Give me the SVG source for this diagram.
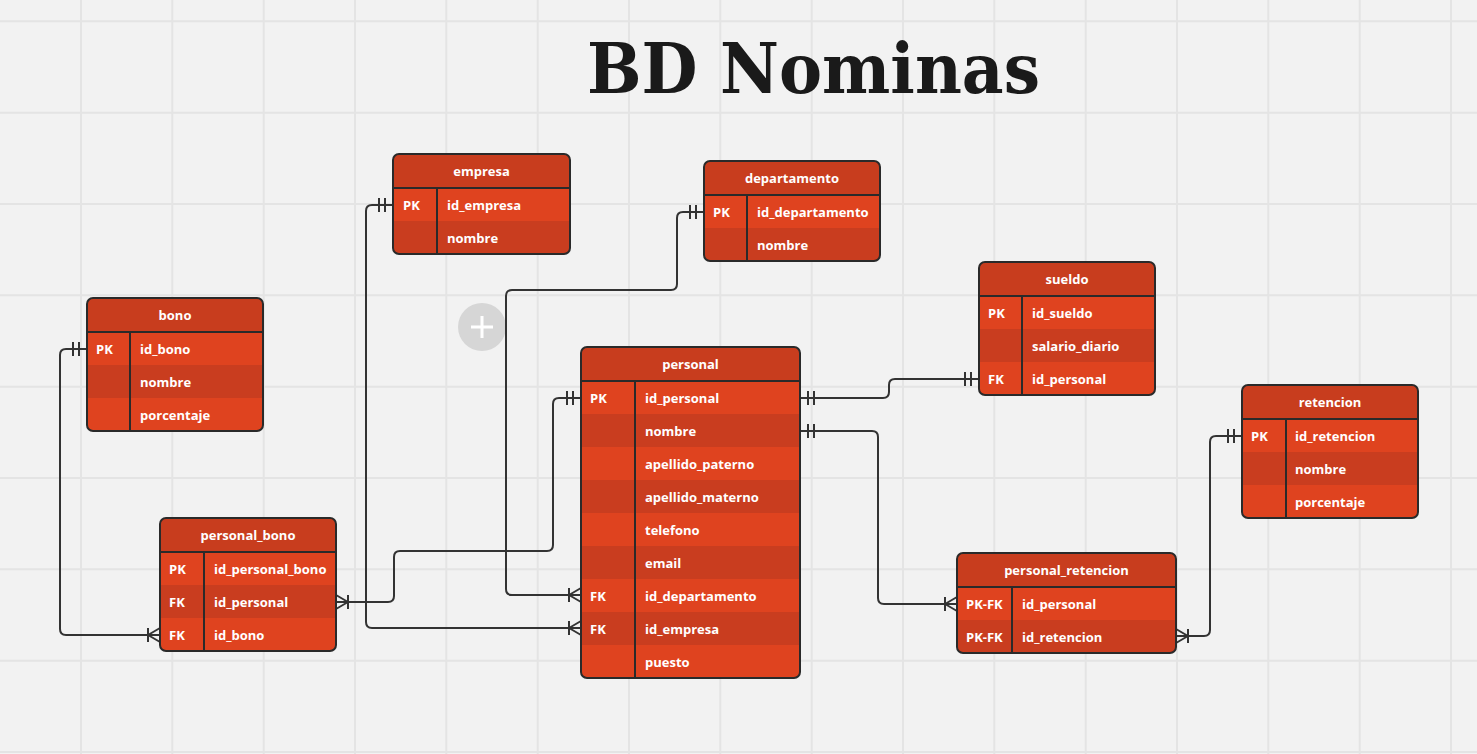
<svg xmlns="http://www.w3.org/2000/svg" width="1477" height="754" viewBox="0 0 1477 754">
<defs>
<style>
.grid{stroke:#e4e4e4;stroke-width:2;fill:none}
.hdr{fill:#c83d1e}
.rb{fill:#df431f}
.rd{fill:#c93d1f}
.frame{fill:none;stroke:#2a2a2a;stroke-width:2}
.ln{stroke:#2a2a2a;stroke-width:2}
.t{font-family:"Open Sans","Noto Sans",sans-serif;font-weight:700;font-size:13px;fill:#ffffff}
.tc{text-anchor:middle}
.conn{fill:none;stroke:#333333;stroke-width:2}
.title{font-family:"DejaVu Serif","Liberation Serif",serif;font-weight:700;font-size:69px;fill:#1a1a1a}
</style>
<marker id="one" viewBox="-18 -9 19 18" markerWidth="19" markerHeight="18" refX="0" refY="0" orient="auto-start-reverse" markerUnits="userSpaceOnUse">
<path d="M-8,-7 V7 M-14,-7 V7" stroke="#333333" stroke-width="2" fill="none"/>
</marker>
<marker id="many" viewBox="-18 -9 19 18" markerWidth="19" markerHeight="18" refX="0" refY="0" orient="auto-start-reverse" markerUnits="userSpaceOnUse">
<path d="M-12,-7 V7 M-12,0 L0,-7 M-12,0 L0,7" stroke="#333333" stroke-width="2" fill="none"/>
</marker>
<clipPath id="c-empresa"><rect x="393" y="154" width="177" height="100" rx="6"/></clipPath>
<clipPath id="c-bono"><rect x="87" y="298" width="176" height="133" rx="6"/></clipPath>
<clipPath id="c-dep"><rect x="704" y="161" width="176" height="100" rx="6"/></clipPath>
<clipPath id="c-sueldo"><rect x="979" y="262" width="176" height="133" rx="6"/></clipPath>
<clipPath id="c-ret"><rect x="1242" y="385" width="176" height="133" rx="6"/></clipPath>
<clipPath id="c-per"><rect x="581" y="347" width="219" height="331" rx="6"/></clipPath>
<clipPath id="c-pb"><rect x="160" y="518" width="176" height="133" rx="6"/></clipPath>
<clipPath id="c-pr"><rect x="957" y="553" width="219" height="100" rx="6"/></clipPath>
</defs>
<rect x="0" y="0" width="1477" height="754" fill="#f2f2f2"/>
<g id="grid">
<path class="grid" d="M81,0V754 M172.3,0V754 M263.7,0V754 M355,0V754 M446.3,0V754 M537.7,0V754 M629,0V754 M720.3,0V754 M811.7,0V754 M903,0V754 M994.3,0V754 M1085.7,0V754 M1177,0V754 M1268.3,0V754 M1359.7,0V754 M1451,0V754 M0,21.3H1477 M0,112.7H1477 M0,204H1477 M0,295.3H1477 M0,386.7H1477 M0,478H1477 M0,569.3H1477 M0,660.7H1477 M0,752H1477"/>
</g>
<text class="title" x="587" y="93" textLength="453" lengthAdjust="spacingAndGlyphs">BD Nominas</text>
<g id="add-button">
<circle cx="482" cy="327" r="24" fill="#d6d6d6"/>
<path d="M471,327H493 M482,316V338" stroke="#ffffff" stroke-width="3"/>
</g>
<g id="connectors">
<path class="conn" marker-start="url(#one)" marker-end="url(#many)" d="M87,349 H66 Q60,349 60,355 V629 Q60,635 66,635 H160"/>
<path class="conn" marker-start="url(#one)" marker-end="url(#many)" d="M393,205 H372 Q366,205 366,211 V622 Q366,628 372,628 H581"/>
<path class="conn" marker-start="url(#one)" marker-end="url(#many)" d="M704,212 H683 Q677,212 677,218 V284 Q677,290 671,290 H512 Q506,290 506,296 V589 Q506,595 512,595 H581"/>
<path class="conn" marker-start="url(#one)" marker-end="url(#many)" d="M581,398 H559 Q553,398 553,404 V545 Q553,551 547,551 H400 Q394,551 394,557 V596 Q394,602 388,602 H336"/>
<path class="conn" marker-start="url(#one)" marker-end="url(#one)" d="M800,398 H883 Q889,398 889,392 V385 Q889,379 895,379 H979"/>
<path class="conn" marker-start="url(#one)" marker-end="url(#many)" d="M800,431 H872 Q878,431 878,437 V598 Q878,604 884,604 H957"/>
<path class="conn" marker-start="url(#one)" marker-end="url(#many)" d="M1242,436 H1216 Q1210,436 1210,442 V630 Q1210,636 1204,636 H1176"/>
</g>
<g id="empresa">
<g clip-path="url(#c-empresa)">
<rect class="hdr" x="393" y="154" width="177" height="34"/>
<rect class="rb" x="393" y="188" width="177" height="33"/>
<rect class="rd" x="393" y="221" width="177" height="33"/>
</g>
<line class="ln" x1="393" y1="188" x2="570" y2="188"/>
<line class="ln" x1="437" y1="188" x2="437" y2="254"/>
<rect class="frame" x="393" y="154" width="177" height="100" rx="6"/>
<text class="t tc" x="481.5" y="176">empresa</text>
<text class="t" x="403" y="209.5">PK</text>
<text class="t" x="447" y="209.5">id_empresa</text>
<text class="t" x="447" y="242.5">nombre</text>
</g>
<g id="bono">
<g clip-path="url(#c-bono)">
<rect class="hdr" x="87" y="298" width="176" height="34"/>
<rect class="rb" x="87" y="332" width="176" height="33"/>
<rect class="rd" x="87" y="365" width="176" height="33"/>
<rect class="rb" x="87" y="398" width="176" height="33"/>
</g>
<line class="ln" x1="87" y1="332" x2="263" y2="332"/>
<line class="ln" x1="130" y1="332" x2="130" y2="431"/>
<rect class="frame" x="87" y="298" width="176" height="133" rx="6"/>
<text class="t tc" x="175" y="320">bono</text>
<text class="t" x="96" y="353.5">PK</text>
<text class="t" x="140" y="353.5">id_bono</text>
<text class="t" x="140" y="386.5">nombre</text>
<text class="t" x="140" y="419.5">porcentaje</text>
</g>
<g id="departamento">
<g clip-path="url(#c-dep)">
<rect class="hdr" x="704" y="161" width="176" height="34"/>
<rect class="rb" x="704" y="195" width="176" height="33"/>
<rect class="rd" x="704" y="228" width="176" height="33"/>
</g>
<line class="ln" x1="704" y1="195" x2="880" y2="195"/>
<line class="ln" x1="747" y1="195" x2="747" y2="261"/>
<rect class="frame" x="704" y="161" width="176" height="100" rx="6"/>
<text class="t tc" x="792" y="183">departamento</text>
<text class="t" x="713" y="216.5">PK</text>
<text class="t" x="757" y="216.5">id_departamento</text>
<text class="t" x="757" y="249.5">nombre</text>
</g>
<g id="sueldo">
<g clip-path="url(#c-sueldo)">
<rect class="hdr" x="979" y="262" width="176" height="34"/>
<rect class="rb" x="979" y="296" width="176" height="33"/>
<rect class="rd" x="979" y="329" width="176" height="33"/>
<rect class="rb" x="979" y="362" width="176" height="33"/>
</g>
<line class="ln" x1="979" y1="296" x2="1155" y2="296"/>
<line class="ln" x1="1022" y1="296" x2="1022" y2="395"/>
<rect class="frame" x="979" y="262" width="176" height="133" rx="6"/>
<text class="t tc" x="1067" y="284">sueldo</text>
<text class="t" x="988" y="317.5">PK</text>
<text class="t" x="1032" y="317.5">id_sueldo</text>
<text class="t" x="1032" y="350.5">salario_diario</text>
<text class="t" x="988" y="383.5">FK</text>
<text class="t" x="1032" y="383.5">id_personal</text>
</g>
<g id="retencion">
<g clip-path="url(#c-ret)">
<rect class="hdr" x="1242" y="385" width="176" height="34"/>
<rect class="rb" x="1242" y="419" width="176" height="33"/>
<rect class="rd" x="1242" y="452" width="176" height="33"/>
<rect class="rb" x="1242" y="485" width="176" height="33"/>
</g>
<line class="ln" x1="1242" y1="419" x2="1418" y2="419"/>
<line class="ln" x1="1286" y1="419" x2="1286" y2="518"/>
<rect class="frame" x="1242" y="385" width="176" height="133" rx="6"/>
<text class="t tc" x="1330" y="407">retencion</text>
<text class="t" x="1251" y="440.5">PK</text>
<text class="t" x="1295" y="440.5">id_retencion</text>
<text class="t" x="1295" y="473.5">nombre</text>
<text class="t" x="1295" y="506.5">porcentaje</text>
</g>
<g id="personal">
<g clip-path="url(#c-per)">
<rect class="hdr" x="581" y="347" width="219" height="34"/>
<rect class="rb" x="581" y="381" width="219" height="33"/>
<rect class="rd" x="581" y="414" width="219" height="33"/>
<rect class="rb" x="581" y="447" width="219" height="33"/>
<rect class="rd" x="581" y="480" width="219" height="33"/>
<rect class="rb" x="581" y="513" width="219" height="33"/>
<rect class="rd" x="581" y="546" width="219" height="33"/>
<rect class="rb" x="581" y="579" width="219" height="33"/>
<rect class="rd" x="581" y="612" width="219" height="33"/>
<rect class="rb" x="581" y="645" width="219" height="33"/>
</g>
<line class="ln" x1="581" y1="381" x2="800" y2="381"/>
<line class="ln" x1="635" y1="381" x2="635" y2="678"/>
<rect class="frame" x="581" y="347" width="219" height="331" rx="6"/>
<text class="t tc" x="690.5" y="369">personal</text>
<text class="t" x="590" y="402.5">PK</text>
<text class="t" x="645" y="402.5">id_personal</text>
<text class="t" x="645" y="435.5">nombre</text>
<text class="t" x="645" y="468.5">apellido_paterno</text>
<text class="t" x="645" y="501.5">apellido_materno</text>
<text class="t" x="645" y="534.5">telefono</text>
<text class="t" x="645" y="567.5">email</text>
<text class="t" x="590" y="600.5">FK</text>
<text class="t" x="645" y="600.5">id_departamento</text>
<text class="t" x="590" y="633.5">FK</text>
<text class="t" x="645" y="633.5">id_empresa</text>
<text class="t" x="645" y="666.5">puesto</text>
</g>
<g id="personal_bono">
<g clip-path="url(#c-pb)">
<rect class="hdr" x="160" y="518" width="176" height="34"/>
<rect class="rb" x="160" y="552" width="176" height="33"/>
<rect class="rd" x="160" y="585" width="176" height="33"/>
<rect class="rb" x="160" y="618" width="176" height="33"/>
</g>
<line class="ln" x1="160" y1="552" x2="336" y2="552"/>
<line class="ln" x1="204" y1="552" x2="204" y2="651"/>
<rect class="frame" x="160" y="518" width="176" height="133" rx="6"/>
<text class="t tc" x="248" y="540">personal_bono</text>
<text class="t" x="169" y="573.5">PK</text>
<text class="t" x="214" y="573.5">id_personal_bono</text>
<text class="t" x="169" y="606.5">FK</text>
<text class="t" x="214" y="606.5">id_personal</text>
<text class="t" x="169" y="639.5">FK</text>
<text class="t" x="214" y="639.5">id_bono</text>
</g>
<g id="personal_retencion">
<g clip-path="url(#c-pr)">
<rect class="hdr" x="957" y="553" width="219" height="34"/>
<rect class="rb" x="957" y="587" width="219" height="33"/>
<rect class="rd" x="957" y="620" width="219" height="33"/>
</g>
<line class="ln" x1="957" y1="587" x2="1176" y2="587"/>
<line class="ln" x1="1012" y1="587" x2="1012" y2="653"/>
<rect class="frame" x="957" y="553" width="219" height="100" rx="6"/>
<text class="t tc" x="1066.5" y="575">personal_retencion</text>
<text class="t" x="966" y="608.5">PK-FK</text>
<text class="t" x="1022" y="608.5">id_personal</text>
<text class="t" x="966" y="641.5">PK-FK</text>
<text class="t" x="1022" y="641.5">id_retencion</text>
</g>
</svg>
